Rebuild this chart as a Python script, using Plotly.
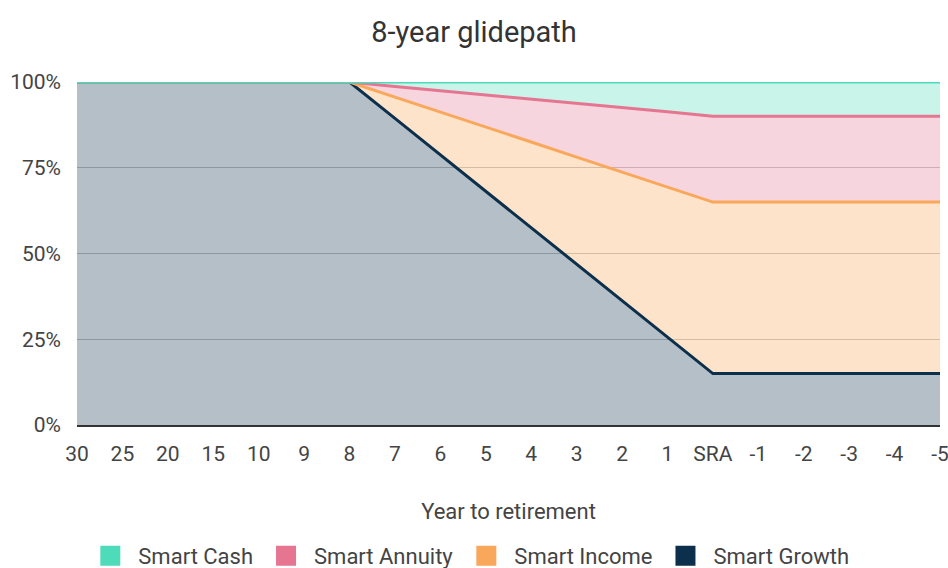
import plotly.graph_objects as go

categories = ["30", "25", "20", "15", "10", "9", "8", "7", "6", "5", "4", "3", "2", "1",
              "SRA", "-1", "-2", "-3", "-4", "-5"]

growth = [100, 100, 100, 100, 100, 100, 100, 89.4, 78.8, 68.1, 57.5, 46.9, 36.3, 25.6,
          15, 15, 15, 15, 15, 15]
income = [0, 0, 0, 0, 0, 0, 0, 6.2, 12.5, 18.8, 25, 31.2, 37.5, 43.8,
          50, 50, 50, 50, 50, 50]
annuity = [0, 0, 0, 0, 0, 0, 0, 3.1, 6.2, 9.4, 12.5, 15.6, 18.7, 21.9,
           25, 25, 25, 25, 25, 25]
cash = [0, 0, 0, 0, 0, 0, 0, 1.3, 2.5, 3.7, 5, 6.3, 7.5, 8.7,
        10, 10, 10, 10, 10, 10]

series = [
    ("Smart Growth", growth, "#0c2f4c", "rgba(12,47,76,0.31)"),
    ("Smart Income", income, "#f9a85b", "rgba(249,168,91,0.32)"),
    ("Smart Annuity", annuity, "#e57591", "rgba(229,117,145,0.30)"),
    ("Smart Cash", cash, "#4ddbb9", "rgba(77,219,185,0.30)"),
]

fig = go.Figure()
for name, vals, col, fillc in series:
    fig.add_trace(go.Scatter(
        x=categories, y=vals, name=name, mode="lines", stackgroup="one",
        line=dict(color=col, width=3), fillcolor=fillc, showlegend=False,
        hoverinfo="skip",
    ))

# legend entries (solid squares)
for name, vals, col, fillc in reversed(series):
    fig.add_trace(go.Scatter(
        x=[None], y=[None], name=name, mode="markers",
        marker=dict(symbol="square", size=16, color=col, line=dict(color=col, width=4)),
        showlegend=True,
    ))

W, H = 948, 568
fig.update_layout(
    width=W, height=H,
    paper_bgcolor="white", plot_bgcolor="white",
    margin=dict(l=77, r=8, t=82, b=143),
    font=dict(family="Roboto, sans-serif", size=21, color="#444"),
    title=dict(text="8-year glidepath", x=0.5, xanchor="center", y=1 - 32 / H, yanchor="middle",
               font=dict(size=29, color="#333")),
    showlegend=True,
    legend=dict(orientation="h", xref="container", x=0.494, xanchor="center", yref="container",
                y=1 - 556 / H, yanchor="middle", itemwidth=46,
                traceorder="normal",
                font=dict(size=22, color="#444"), itemclick=False),
    xaxis=dict(
        type="category", range=[0, 19], showgrid=False, zeroline=False,
        showline=True, linecolor="#333", linewidth=2, automargin=False,
        ticks="", tickfont=dict(size=21, color="#444"), ticklabelstandoff=9,
        title=dict(text="Year to retirement", font=dict(size=22, color="#444"), standoff=38),
        fixedrange=True,
    ),
    yaxis=dict(
        range=[0, 100], tickvals=[0, 25, 50, 75, 100],
        ticktext=["0%", "25%", "50%", "75%", "100%"],
        showgrid=True, gridcolor="#c6c6c6", gridwidth=1, zeroline=False,
        automargin=False,
        ticks="", tickfont=dict(size=21, color="#444"), ticklabelstandoff=15,
        fixedrange=True,
    ),
)

fig.write_html(
    "out.html",
    config={"displayModeBar": False},
    post_script="document.body.style.margin='0';document.body.style.overflow='hidden';",
)
